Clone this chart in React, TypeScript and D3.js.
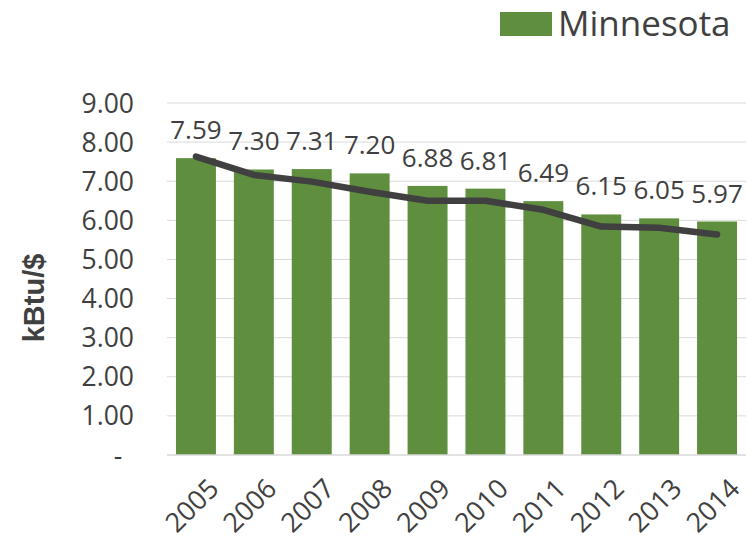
import React from "react";
import * as d3 from "d3";

const years = ["2005", "2006", "2007", "2008", "2009", "2010", "2011", "2012", "2013", "2014"];
const barValues = [7.59, 7.3, 7.31, 7.2, 6.88, 6.81, 6.49, 6.15, 6.05, 5.97];
const lineValues = [7.63, 7.16, 6.99, 6.73, 6.5, 6.5, 6.27, 5.84, 5.81, 5.64];
const yTicks = [0, 1, 2, 3, 4, 5, 6, 7, 8, 9];
const seriesName = "Minnesota";
const yTitle = "kBtu/$";

const W = 748;
const H = 539;
const left = 167;
const right = 746;
const top = 103;
const bottom = 455;
const green = "#5E8E3E";
const textCol = "#404040";
const font = "'Open Sans', sans-serif";

export default function App() {
  const x = d3.scaleBand<string>().domain(years).range([left, right]).paddingInner(0.31).paddingOuter(0.155);
  const y = d3.scaleLinear().domain([0, 9]).range([bottom, top]);
  const line = d3
    .line<number>()
    .x((_, i) => (x(years[i]) as number) + x.bandwidth() / 2)
    .y((d) => y(d));
  return (
    <svg width={W} height={H} style={{ position: "absolute", left: 0, top: 0 }}>
      <rect width={W} height={H} fill="#fff" />
      {yTicks.map((t) => (
        <g key={t}>
          {t > 0 && <line x1={left} x2={right} y1={y(t)} y2={y(t)} stroke="#d9d9d9" strokeWidth={1} />}
          <text
            x={t === 0 ? 118 : 134}
            y={y(t)}
            dy="0.36em"
            textAnchor={t === 0 ? "middle" : "end"}
            fontFamily={font}
            fontSize={26.5}
            fill={textCol}
          >
            {t === 0 ? "-" : d3.format(".2f")(t)}
          </text>
        </g>
      ))}
      {barValues.map((v, i) => (
        <g key={years[i]}>
          <rect x={x(years[i])} y={y(v)} width={x.bandwidth()} height={bottom - y(v)} fill={green} />
          <text
            x={(x(years[i]) as number) + x.bandwidth() / 2}
            y={y(v) - 19}
            textAnchor="middle"
            fontFamily={font}
            fontSize={26}
            fill={textCol}
          >
            {d3.format(".2f")(v)}
          </text>
        </g>
      ))}
      <line x1={left} x2={right} y1={bottom} y2={bottom} stroke="#d9d9d9" strokeWidth={1.5} />
      <path d={line(lineValues) as string} fill="none" stroke="#404040" strokeWidth={6.5} strokeLinecap="round" strokeLinejoin="round" />
      {years.map((yr) => {
        const cx = (x(yr) as number) + x.bandwidth() / 2 + 11;
        const cy = 477;
        return (
          <text
            key={yr}
            transform={`translate(${cx},${cy}) rotate(-45)`}
            textAnchor="end"
            dy="0.7em"
            fontFamily={font}
            fontSize={27}
            fill={textCol}
          >
            {yr}
          </text>
        );
      })}
      <text
        transform={`translate(44,298) rotate(-90)`}
        textAnchor="middle"
        fontFamily="'Liberation Sans', Arial, sans-serif"
        fontWeight="bold"
        fontSize={29}
        fill={textCol}
      >
        {yTitle}
      </text>
      <rect x={500} y={12} width={52} height={24} fill={green} />
      <text x={558} y={36} fontFamily={font} fontSize={35} fill={textCol}>
        {seriesName}
      </text>
    </svg>
  );
}
